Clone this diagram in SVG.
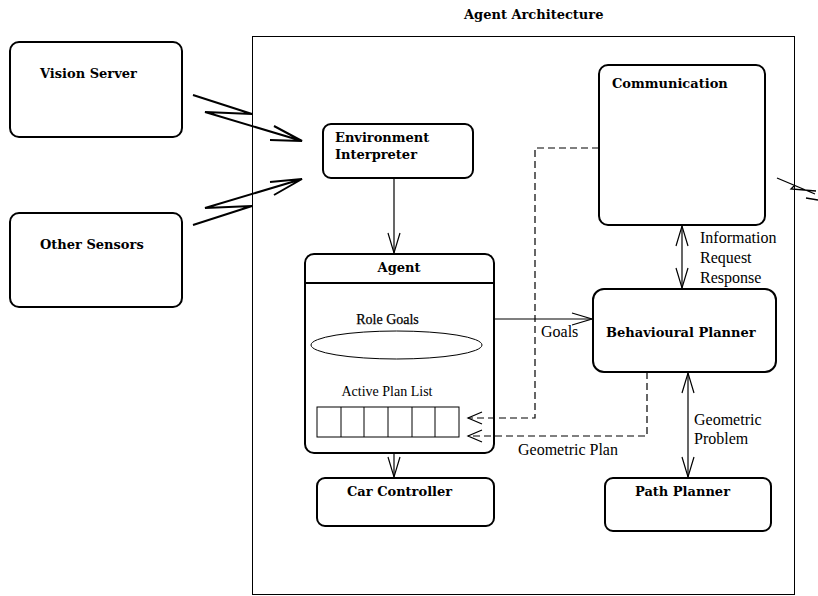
<svg xmlns="http://www.w3.org/2000/svg" width="818" height="596" viewBox="0 0 818 596">
<defs>
<style>
.box{fill:#fff;stroke:#000;stroke-width:2}
.frame{fill:none;stroke:#000;stroke-width:1}
.t{font-family:"DejaVu Serif","Liberation Serif",serif;font-weight:bold;font-size:13px;fill:#000}
.l{font-family:"Liberation Serif","Times New Roman",serif;font-size:16px;fill:#000}
.s{font-family:"Liberation Serif","Times New Roman",serif;font-size:14px;fill:#000}
.c{fill:none;stroke:#000;stroke-width:1.2}
.d{fill:none;stroke:#000;stroke-width:1.2;stroke-dasharray:7,4}
.z{fill:none;stroke:#000;stroke-width:2}
</style>
<marker id="v" markerUnits="userSpaceOnUse" markerWidth="24" markerHeight="14" refX="20" refY="6" orient="auto-start-reverse" overflow="visible">
<path d="M0,0 L20,6 L0,12" fill="none" stroke="#000" stroke-width="1.2" stroke-dasharray="none"/>
</marker>
<marker id="vs" markerUnits="userSpaceOnUse" markerWidth="16" markerHeight="14" refX="14" refY="6" orient="auto" overflow="visible">
<path d="M0,0 L14,6 L0,12" fill="none" stroke="#000" stroke-width="1.2" stroke-dasharray="none"/>
</marker>
</defs>
<rect width="818" height="596" fill="#fff"/>
<g id="frame">
<rect class="frame" x="252.5" y="36.5" width="542" height="558"/>
<text class="t" x="464" y="19">Agent Architecture</text>
</g>
<g id="vision-server">
<rect class="box" x="10" y="42" width="172" height="95" rx="9"/>
<text class="t" x="40" y="78">Vision Server</text>
</g>
<g id="other-sensors">
<rect class="box" x="10" y="213" width="172" height="94" rx="9"/>
<text class="t" x="40" y="249">Other Sensors</text>
</g>
<g id="environment-interpreter">
<rect class="box" x="323" y="124" width="150" height="54" rx="8"/>
<text class="t" x="335" y="142">Environment</text>
<text class="t" x="335" y="159">Interpreter</text>
</g>
<g id="agent">
<rect class="box" x="305" y="254" width="189" height="199" rx="9"/>
<line x1="305" y1="283" x2="494" y2="283" stroke="#000" stroke-width="2"/>
<text class="t" x="399" y="272" text-anchor="middle">Agent</text>
<text class="s" x="387.5" y="324" text-anchor="middle" font-size="15.5" stroke="#000" stroke-width="0.25">Role Goals</text>
<ellipse cx="396.5" cy="345" rx="85.5" ry="14" fill="none" stroke="#000" stroke-width="1"/>
<text class="s" x="387" y="396" text-anchor="middle">Active Plan List</text>
<g fill="none" stroke="#000" stroke-width="1">
<rect x="317" y="407" width="142" height="30"/>
<line x1="341" y1="407" x2="341" y2="437"/>
<line x1="364" y1="407" x2="364" y2="437"/>
<line x1="388" y1="407" x2="388" y2="437"/>
<line x1="412" y1="407" x2="412" y2="437"/>
<line x1="435" y1="407" x2="435" y2="437"/>
</g>
</g>
<g id="communication">
<rect class="box" x="599" y="65" width="166" height="160" rx="9"/>
<text class="t" x="612" y="88">Communication</text>
</g>
<g id="behavioural-planner">
<rect class="box" x="593" y="289" width="183" height="83" rx="11"/>
<text class="t" x="606" y="337">Behavioural Planner</text>
</g>
<g id="car-controller">
<rect class="box" x="317" y="478" width="177" height="48" rx="8"/>
<text class="t" x="347" y="496">Car Controller</text>
</g>
<g id="path-planner">
<rect class="box" x="605" y="478" width="166" height="53" rx="8"/>
<text class="t" x="635" y="496">Path Planner</text>
</g>
<g id="connectors">
<path class="z" d="M193,95 L252,114 L205,112 L302,141 M274,126 L302,141 L270,140"/>
<path class="z" d="M193,225 L252,206 L205,208 L302,179 M270,182 L302,179 L274,195"/>
<path d="M777,178 L815,194 M794,186 L791,189 L816,191 M806,198 L818,200" fill="none" stroke="#000" stroke-width="1.3"/>
<line class="c" x1="394" y1="178" x2="394" y2="253" marker-end="url(#v)"/>
<line class="c" x1="394" y1="453" x2="394" y2="477" marker-end="url(#v)"/>
<line class="c" x1="494" y1="319" x2="592" y2="319" marker-end="url(#v)"/>
<text class="l" x="541" y="337">Goals</text>
<path class="d" d="M599,148 L535,148 L535,418 L468,418" marker-end="url(#vs)"/>
<path class="d" d="M647,372 L647,436 L468,436" marker-end="url(#vs)"/>
<text class="l" x="518" y="455">Geometric Plan</text>
<line class="c" x1="682" y1="226" x2="682" y2="288" marker-start="url(#v)" marker-end="url(#v)"/>
<text class="l" x="700" y="243">Information</text>
<text class="l" x="700" y="263">Request</text>
<text class="l" x="700" y="283">Response</text>
<line class="c" x1="688" y1="373" x2="688" y2="477" marker-start="url(#v)" marker-end="url(#v)"/>
<text class="l" x="694" y="425">Geometric</text>
<text class="l" x="694" y="444">Problem</text>
</g>
</svg>
